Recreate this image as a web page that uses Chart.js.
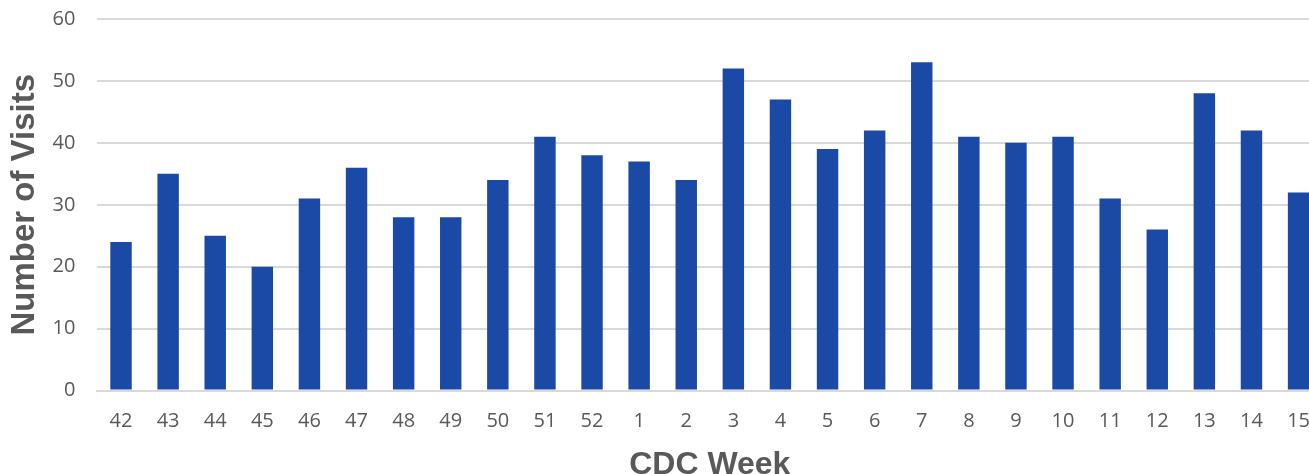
<!DOCTYPE html>
<html>
<head>
<meta charset="utf-8">
<script src="https://cdn.jsdelivr.net/npm/chart.js@4"></script>
<style>
  html, body { margin: 0; padding: 0; background: #ffffff; overflow: hidden; }
</style>
</head>
<body>
<canvas id="graficaVisitas" width="1329" height="474"></canvas>
<script>
// Semanas CDC (eje x)
var semanas = ['42', '43', '44', '45', '46', '47', '48', '49', '50', '51', '52',
    '1', '2', '3', '4', '5', '6', '7', '8', '9', '10', '11', '12', '13', '14', '15'];

// Número de visitas por semana
var visitas = [24, 35, 25, 20, 31, 36, 28, 28, 34, 41, 38,
    37, 34, 52, 47, 39, 42, 53, 41, 40, 41, 31, 26, 48, 42, 32];

// Marcas del eje y
var marcasY = [0, 10, 20, 30, 40, 50, 60];

var colorBarra = '#1b49a6';
var colorTexto = '#595959';

var ctx = document.getElementById('graficaVisitas').getContext('2d');

var graficaVisitas = new Chart(ctx, {
    type: 'bar',
    data: {
        labels: semanas,
        datasets: [{
            data: visitas,
            backgroundColor: colorBarra,
            borderColor: colorBarra,
            borderWidth: 0,
            barPercentage: 0.455,
            categoryPercentage: 1
        }]
    },
    options: {
        responsive: false,
        animation: false,
        layout: {
            padding: { top: 0, right: 0, bottom: 0, left: 0 }
        },
        plugins: {
            legend: { display: false },
            tooltip: { enabled: false }
        },
        scales: {
            x: {
                grid: { display: false, drawTicks: false },
                border: { display: true, color: '#d9d9d9', width: 2 },
                ticks: {
                    color: colorTexto,
                    font: { family: 'Open Sans', size: 20 },
                    padding: 19,
                    maxRotation: 0,
                    autoSkip: false
                },
                title: {
                    display: true,
                    text: 'CDC Week',
                    color: colorTexto,
                    font: { family: 'Liberation Sans', size: 32, weight: 'bold' },
                    padding: { top: -7, bottom: -10 }
                }
            },
            y: {
                min: 0,
                max: 60,
                afterBuildTicks: function (axis) {
                    axis.ticks = marcasY.map(function (v) { return { value: v }; });
                },
                // el padding de las marcas empuja el área hacia abajo, se corrige aquí
                afterFit: function (axis) {
                    axis.paddingTop = 19;
                },
                grid: { color: '#d9d9d9', lineWidth: 2, drawTicks: false },
                border: { display: false },
                ticks: {
                    color: colorTexto,
                    font: { family: 'Open Sans', size: 20 },
                    padding: 22
                },
                title: {
                    display: true,
                    text: 'Number of Visits',
                    color: colorTexto,
                    font: { family: 'Liberation Sans', size: 33, weight: 'bold' },
                    padding: { top: 5, bottom: -14 }
                }
            }
        }
    }
});
</script>
</body>
</html>
